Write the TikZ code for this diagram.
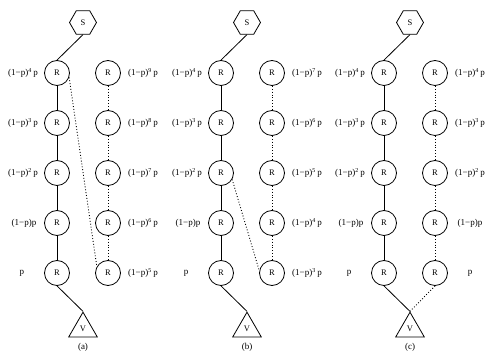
\documentclass[tikz,border=0pt]{standalone}
\usepackage{fontspec}
\setmainfont{Liberation Serif}
\usetikzlibrary{shapes.geometric}
\newcommand{\pw}[1]{(1−p)\textsuperscript{#1}\,p}
\begin{document}
\begin{tikzpicture}[x=1pt,y=-1pt,
  rnode/.style={circle,draw,line width=0.8pt,minimum size=25pt,inner sep=0pt,font=\fontsize{8.5}{9}\selectfont},
  snode/.style={regular polygon,regular polygon sides=6,draw,line width=0.8pt,minimum size=27pt,inner sep=0pt,font=\fontsize{8.5}{9}\selectfont},
  vnode/.style={regular polygon,regular polygon sides=3,draw,line width=0.8pt,minimum size=33pt,inner sep=0pt,font=\fontsize{8.5}{9}\selectfont},
  lbl/.style={font=\fontsize{9}{10}\selectfont,inner sep=0pt},
  conn/.style={line width=0.8pt},
  dotconn/.style={line width=0.9pt,dotted}]
\useasboundingbox (0,0) rectangle (487,352);
\foreach \px/\pn/\ra/\rb/\rc/\rd/\re in {83/a/\pw{9}/\pw{8}/\pw{7}/\pw{6}/\pw{5},
  247/b/\pw{7}/\pw{6}/\pw{5}/\pw{4}/\pw{3},
  410/c/\pw{4}/\pw{3}/\pw{2}/(1−p)p/p}{
  \node[snode] (\pn-S) at (\px,22.5) {S};
  \foreach \i/\y in {1/73,2/123,3/173,4/223,5/273}{
    \node[rnode] (\pn-L\i) at (\px-26,\y) {R};
    \node[rnode] (\pn-R\i) at (\px+25,\y) {R};
  }
  \node[lbl] (\pn-l1) at (\px-60,73) {\pw{4}};
  \node[lbl] (\pn-l2) at (\px-60,123) {\pw{3}};
  \node[lbl] (\pn-l3) at (\px-60,173) {\pw{2}};
  \node[lbl] (\pn-l4) at (\px-59,223) {(1−p)p};
  \node[lbl] (\pn-l5) at (\px-61,273) {p};
  \node[lbl] (\pn-r1) at (\px+60,73) {\ra};
  \node[lbl] (\pn-r2) at (\px+60,123) {\rb};
  \node[lbl] (\pn-r3) at (\px+60,173) {\rc};
  \node[lbl] (\pn-r4) at (\px+60,223) {\rd};
  \node[lbl] (\pn-r5) at (\px+60,273) {\re};
  \node[vnode] (\pn-V) at (\px,328.7) {V};
  \node[lbl] (\pn-cap) at (\px,347) {(\pn)};
  \draw[conn] (\pn-S.south) -- (\pn-L1.north);
  \foreach \i/\j in {1/2,2/3,3/4,4/5}{
    \draw[conn] (\pn-L\i) -- (\pn-L\j);
    \draw[dotconn] (\pn-R\i) -- (\pn-R\j);
  }
  \draw[conn] (\pn-L5.south) -- (\pn-V.corner 1);
}
\draw[dotconn] (a-L1.-20) -- (a-R5.150);
\draw[dotconn] (b-L3.-30) -- (b-R5.170);
\draw[dotconn] (c-R5.south) -- (c-V.corner 1);
\end{tikzpicture}
\end{document}
